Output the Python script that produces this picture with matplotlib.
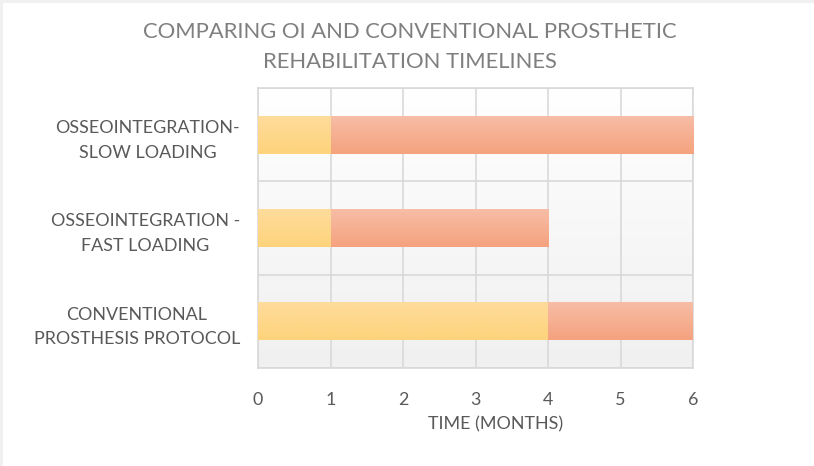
import matplotlib.pyplot as plt
import matplotlib.patches as mpatches
from matplotlib.colors import LinearSegmentedColormap
import numpy as np

plt.rcParams['font.family'] = ['Lato', 'DejaVu Sans']

# protocols, bottom to top
protocols = ['CONVENTIONAL\nPROSTHESIS PROTOCOL',
             'OSSEOINTEGRATION -\nFAST LOADING',
             'OSSEOINTEGRATION-\nSLOW LOADING']
phase1_months = [4, 1, 1]
phase2_months = [2, 3, 5]
month_ticks = [0, 1, 2, 3, 4, 5, 6]

yellow = LinearSegmentedColormap.from_list('yel', ['#fed37b', '#fedc9c'])
orange = LinearSegmentedColormap.from_list('org', ['#f5a27e', '#f7bea7'])
panel = LinearSegmentedColormap.from_list('bg', ['#f0f0f0', '#ffffff'])

fig = plt.figure(figsize=(8.14, 4.66), dpi=100)
ax = fig.add_axes([258 / 814, 1 - 368 / 466, 435 / 814, 280 / 466])

# thin grey strips along the top and left edges
fig.patches.append(mpatches.Rectangle((0, 1 - 3 / 466), 1, 3 / 466, transform=fig.transFigure,
                                      fc='#f0f0f0', ec='none', zorder=0))
fig.patches.append(mpatches.Rectangle((0, 0), 3 / 814, 1, transform=fig.transFigure,
                                      fc='#f0f0f0', ec='none', zorder=0))

y = np.arange(len(protocols))

# plot area background fades from white to light grey
grad = np.linspace(0, 1, 256).reshape(-1, 1)
ax.imshow(grad, cmap=panel, origin='lower', aspect='auto',
          extent=(0, 6, -0.5, len(protocols) - 0.5), zorder=0)


def gradient_bars(left, width, cmap):
    bars = ax.barh(y, width, left=left, height=0.41, color='none', zorder=3)
    for b in bars:
        x0, y0 = b.get_x(), b.get_y()
        im = ax.imshow(grad, cmap=cmap, origin='lower', aspect='auto',
                       extent=(x0, x0 + b.get_width(), y0, y0 + b.get_height()),
                       zorder=3)
        im.set_clip_path(b)


gradient_bars(0, phase1_months, yellow)
gradient_bars(phase1_months, phase2_months, orange)

ax.set_xlim(0, 6)
ax.set_ylim(-0.5, len(protocols) - 0.5)

# grid: vertical at each month, horizontal between categories
ax.set_xticks(month_ticks)
ax.set_yticks(y)
ax.set_yticks(np.arange(-0.5, len(protocols), 1), minor=True)
ax.xaxis.grid(True, color='#d9d9d9', lw=1.2, zorder=1)
ax.yaxis.grid(True, which='minor', color='#d9d9d9', lw=1.2, zorder=1)
ax.set_axisbelow(True)
for s in ax.spines.values():
    s.set_color('#d9d9d9')
    s.set_linewidth(1.2)

ax.set_yticklabels(protocols, fontsize=12.9, color='#595959', ha='right',
                   multialignment='center', linespacing=1.65)
ax.tick_params(axis='y', which='both', length=0, pad=13)
ax.tick_params(axis='x', length=0, pad=17, labelsize=12.9, labelcolor='#595959')
ax.set_xlabel('TIME (MONTHS)', fontsize=12.9, color='#595959')
ax.xaxis.set_label_coords(0.546, -0.2)
ax.xaxis.label.set_va('center')

fig.text(0.503, 1 - 47 / 466, 'COMPARING OI AND CONVENTIONAL PROSTHETIC\nREHABILITATION TIMELINES',
         ha='center', va='center', fontsize=15.8, color='#7f7f7f', linespacing=1.65)

fig.savefig('out.png', dpi=100)
